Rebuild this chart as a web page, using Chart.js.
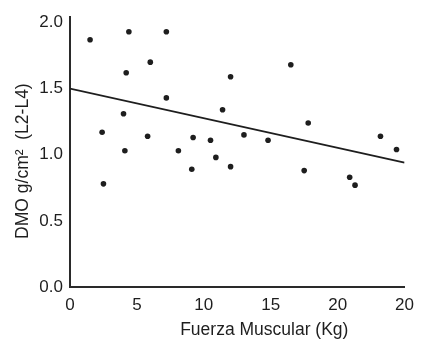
<!DOCTYPE html>
<html>
<head>
<meta charset="utf-8">
<script src="https://cdn.jsdelivr.net/npm/chart.js@4/dist/chart.umd.min.js"></script>
<style>
  html, body { margin: 0; padding: 0; background: #ffffff; }
  #wrap { width: 422px; height: 342px; }
</style>
</head>
<body>
<div id="wrap"><canvas id="c" width="422" height="342"></canvas></div>
<script>
// Muscle strength (kg) against bone mineral density (g/cm², L2-L4)
const strength = [1.5, 4.4, 7.2, 6.0, 4.2, 7.2, 4.0, 12.0, 16.5, 11.4,
                  2.4, 5.8, 4.1, 8.1, 2.5, 9.2, 10.5, 13.0, 14.8, 10.9,
                  9.1, 12.0, 17.8, 23.2, 24.4, 17.5, 20.9, 21.3];
const bmd = [1.87, 1.93, 1.93, 1.70, 1.62, 1.43, 1.31, 1.59, 1.68, 1.34,
             1.17, 1.14, 1.03, 1.03, 0.78, 1.13, 1.11, 1.15, 1.11, 0.98,
             0.89, 0.91, 1.24, 1.14, 1.04, 0.88, 0.83, 0.77];

// Fitted regression line end points
const fitX = [0, 25];
const fitY = [1.5, 0.94];

const xTickValues = [0, 5, 10, 15, 20, 25];
const xTickLabels = ['0', '5', '10', '15', '20', '20'];
const yTickValues = [0, 0.5, 1, 1.5, 2];
const yTickLabels = ['0.0', '0.5', '1.0', '1.5', '2.0'];

const xTitle = 'Fuerza Muscular (Kg)';
const yTitle = 'DMO g/cm\u00B2  (L2-L4)';

const ink = '#1e1e1e';
const family = '"Liberation Sans", Arial, Helvetica, sans-serif';

// Axis titles, placed relative to the plot area
const axisTitles = {
  id: 'axisTitles',
  afterDraw(chart) {
    const { ctx, chartArea: a } = chart;
    ctx.save();
    ctx.fillStyle = ink;
    ctx.font = '17.5px ' + family;
    ctx.textAlign = 'center';
    ctx.textBaseline = 'middle';
    ctx.fillText(xTitle, (a.left + a.right) / 2 + 27, a.bottom + 43);
    ctx.translate(23, (a.top + a.bottom) / 2 + 9);
    ctx.rotate(-Math.PI / 2);
    ctx.fillText(yTitle, 0, 0);
    ctx.restore();
  }
};

new Chart(document.getElementById('c'), {
  type: 'scatter',
  data: {
    datasets: [
      {
        data: strength.map((x, i) => ({ x, y: bmd[i] })),
        backgroundColor: ink,
        borderColor: ink,
        pointRadius: 2.8,
        borderWidth: 0,
        showLine: false
      },
      {
        data: fitX.map((x, i) => ({ x, y: fitY[i] })),
        showLine: true,
        borderColor: ink,
        borderWidth: 1.8,
        pointRadius: 0,
        fill: false
      }
    ]
  },
  options: {
    responsive: false,
    animation: false,
    devicePixelRatio: 1,
    layout: { padding: { top: 15, right: 11, left: 0, bottom: 0 } },
    plugins: { legend: { display: false }, tooltip: { enabled: false } },
    scales: {
      x: {
        type: 'linear',
        min: 0,
        max: 25,
        afterBuildTicks: s => { s.ticks = xTickValues.map(v => ({ value: v })); },
        afterFit: s => { s.height = 55; },
        grid: { display: false, drawTicks: false },
        border: { display: true, color: '#2a2a2a', width: 2 },
        ticks: {
          callback: (v, i) => xTickLabels[i],
          autoSkip: false,
          maxRotation: 0,
          padding: 8,
          color: ink,
          font: { family, size: 17 }
        }
      },
      y: {
        type: 'linear',
        min: 0,
        max: 2.04,
        afterBuildTicks: s => { s.ticks = yTickValues.map(v => ({ value: v })); },
        afterFit: s => { s.width = 70; },
        grid: { display: false, drawTicks: false },
        border: { display: true, color: '#2a2a2a', width: 2 },
        ticks: {
          callback: (v, i) => yTickLabels[i],
          autoSkip: false,
          padding: 7,
          color: ink,
          font: { family, size: 17 }
        }
      }
    }
  },
  plugins: [axisTitles]
});
</script>
</body>
</html>
